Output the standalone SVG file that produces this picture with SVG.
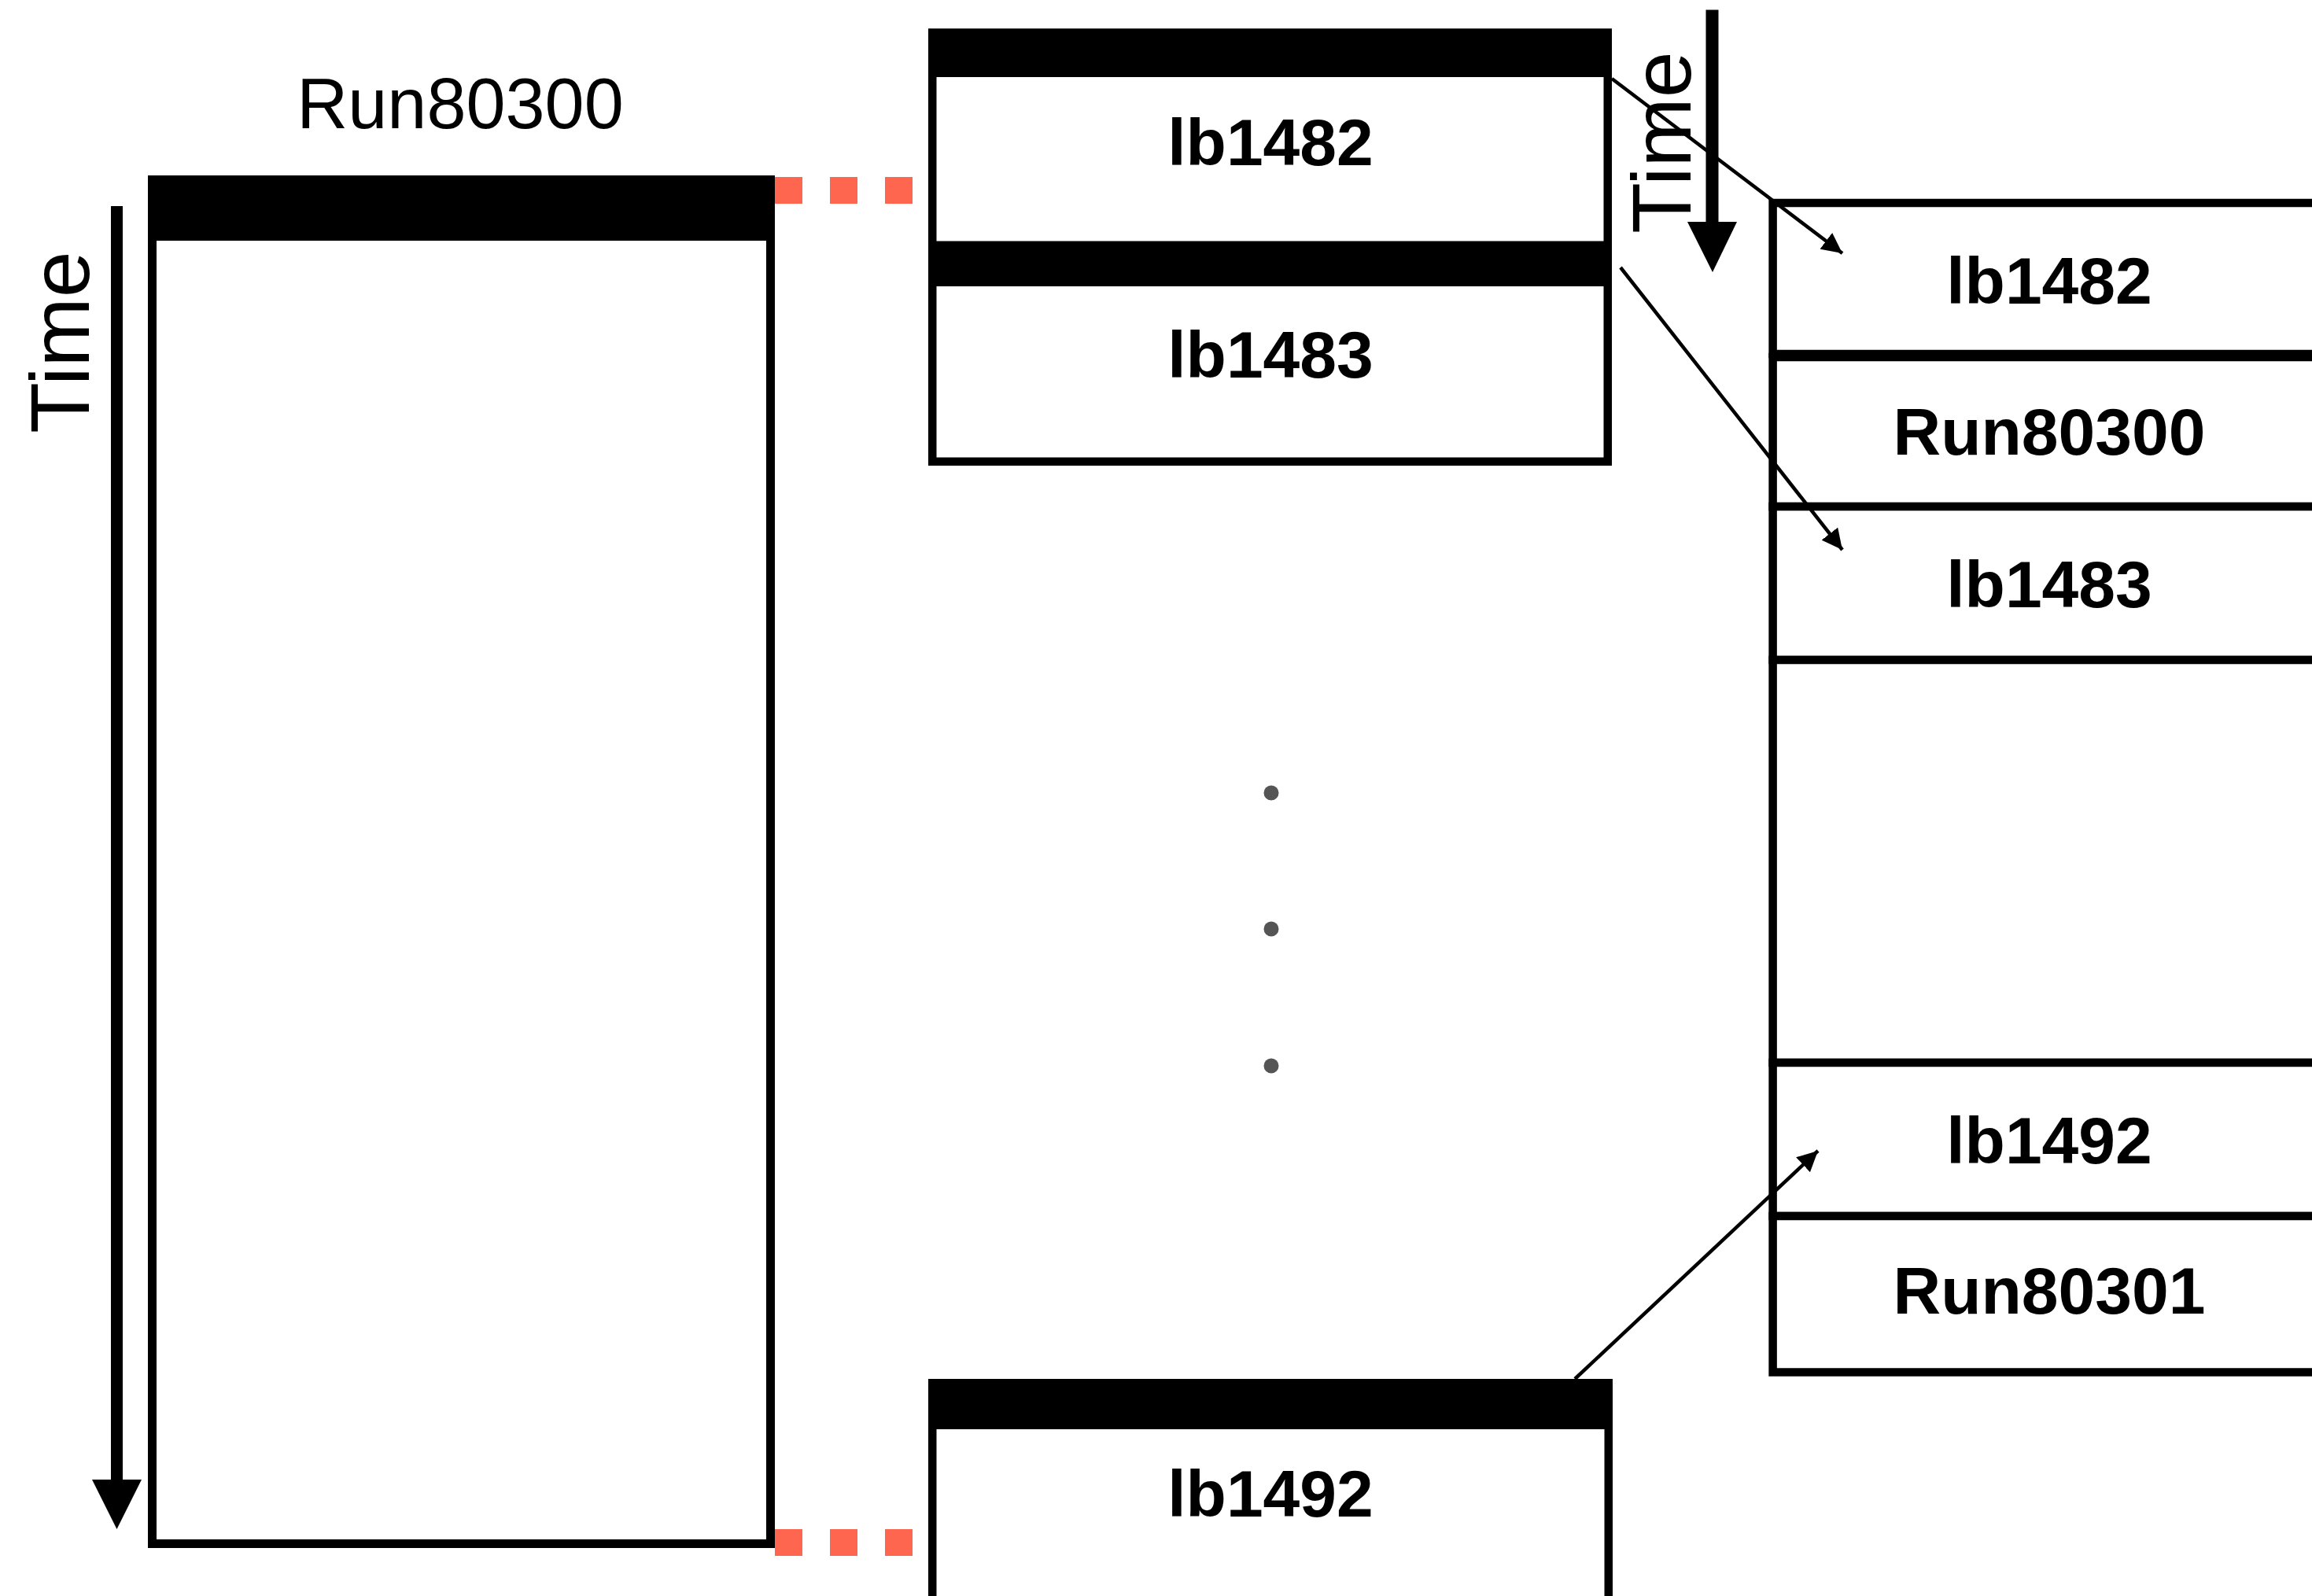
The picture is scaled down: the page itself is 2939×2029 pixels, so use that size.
<svg xmlns="http://www.w3.org/2000/svg" width="2939" height="2029" viewBox="0 0 2939 2029">
  <defs>
    <style>
      .box { fill: #ffffff; stroke: #000000; stroke-width: 10.5; }
      .bar { fill: #000000; }
      .lbl { font-family: "Liberation Sans", Arial, Helvetica, sans-serif; font-size: 84px; font-weight: bold; fill: #000000; text-anchor: middle; }
      .big { font-family: "Liberation Sans", Arial, Helvetica, sans-serif; font-size: 90px; fill: #000000; text-anchor: middle; }
      .time { font-family: "Liberation Sans", Arial, Helvetica, sans-serif; font-size: 106px; fill: #000000; text-anchor: middle; }
      .dash { stroke: #FF6650; stroke-width: 34; stroke-dasharray: 35 35; fill: none; }
      .conn { stroke: #000000; stroke-width: 4.5; fill: none; marker-end: url(#head); }
      .tline { stroke: #000000; stroke-width: 15; fill: none; }
      .dot { fill: #555555; }
    </style>
    <marker id="head" viewBox="0 0 26 26" refX="26" refY="13" markerWidth="26" markerHeight="26" markerUnits="userSpaceOnUse" orient="auto">
      <path d="M0,0 L26,13 L0,26 z" fill="#000000"/>
    </marker>
  </defs>
  <rect x="0" y="0" width="2939" height="2029" fill="#ffffff"/>

  <!-- Left time axis -->
  <g id="time-left">
    <line class="tline" x1="148.5" y1="262" x2="148.5" y2="1885"/>
    <polygon points="117,1881 180,1881 148.5,1944" fill="#000000"/>
    <text class="time" transform="translate(112.5,435) rotate(-90)" x="0" y="0">Time</text>
  </g>

  <!-- Run80300 big box -->
  <g id="run80300">
    <text class="big" x="585" y="163">Run80300</text>
    <rect class="box" x="193.5" y="228.5" width="786" height="1734" style="stroke-width:11"/>
    <rect class="bar" x="188" y="223" width="797" height="83"/>
  </g>

  <!-- Middle boxes -->
  <g id="lb1482-mid">
    <rect class="box" x="1185.25" y="41.75" width="858.5" height="270"/>
    <rect class="bar" x="1180" y="36.5" width="869" height="61.5"/>
    <text class="lbl" x="1615" y="210">lb1482</text>
  </g>
  <g id="lb1483-mid">
    <rect class="box" x="1185.25" y="312.25" width="858.5" height="274.5"/>
    <rect class="bar" x="1180" y="307" width="869" height="57"/>
    <text class="lbl" x="1615" y="480">lb1483</text>
  </g>
  <g id="lb1492-mid">
    <rect class="box" x="1185.25" y="1758.25" width="859.5" height="400"/>
    <rect class="bar" x="1180" y="1753" width="870" height="64"/>
    <text class="lbl" x="1615" y="1928">lb1492</text>
  </g>

  <!-- Ellipsis dots -->
  <g id="dots">
    <circle class="dot" cx="1616" cy="1008" r="9.5"/>
    <circle class="dot" cx="1616" cy="1181" r="9.5"/>
    <circle class="dot" cx="1616" cy="1355" r="9.5"/>
  </g>

  <!-- Right time axis -->
  <g id="time-right">
    <line x1="2176.5" y1="12.6" x2="2176.5" y2="286" stroke="#000000" stroke-width="16"/>
    <polygon points="2145,282 2208,282 2177,346" fill="#000000"/>
    <text class="time" transform="translate(2148.5,181) rotate(-90)" x="0" y="0">Time</text>
  </g>

  <!-- Right stack -->
  <g id="stack-lb1482">
    <rect class="box" x="2253.6" y="258" width="800" height="192"/>
    <text class="lbl" x="2605" y="386">lb1482</text>
  </g>
  <g id="stack-run80300">
    <rect class="box" x="2253.6" y="454" width="800" height="190"/>
    <text class="lbl" x="2605" y="578">Run80300</text>
  </g>
  <g id="stack-lb1483">
    <rect class="box" x="2253.6" y="644" width="800" height="195"/>
    <text class="lbl" x="2605" y="772">lb1483</text>
  </g>
  <g id="stack-gap">
    <rect class="box" x="2253.6" y="839" width="800" height="512"/>
  </g>
  <g id="stack-lb1492">
    <rect class="box" x="2253.6" y="1351" width="800" height="195"/>
    <text class="lbl" x="2605" y="1479">lb1492</text>
  </g>
  <g id="stack-run80301">
    <rect class="box" x="2253.6" y="1546" width="800" height="198.5"/>
    <text class="lbl" x="2605" y="1670">Run80301</text>
  </g>

  <!-- Connectors -->
  <g id="connectors">
    <line class="dash" x1="985" y1="242" x2="1160" y2="242"/>
    <line class="dash" x1="985" y1="1961" x2="1160" y2="1961"/>
    <line class="conn" x1="2049" y1="100" x2="2342" y2="322"/>
    <line class="conn" x1="2060" y1="340" x2="2342" y2="699"/>
    <line class="conn" x1="2002" y1="1753" x2="2311" y2="1463"/>
  </g>
</svg>
